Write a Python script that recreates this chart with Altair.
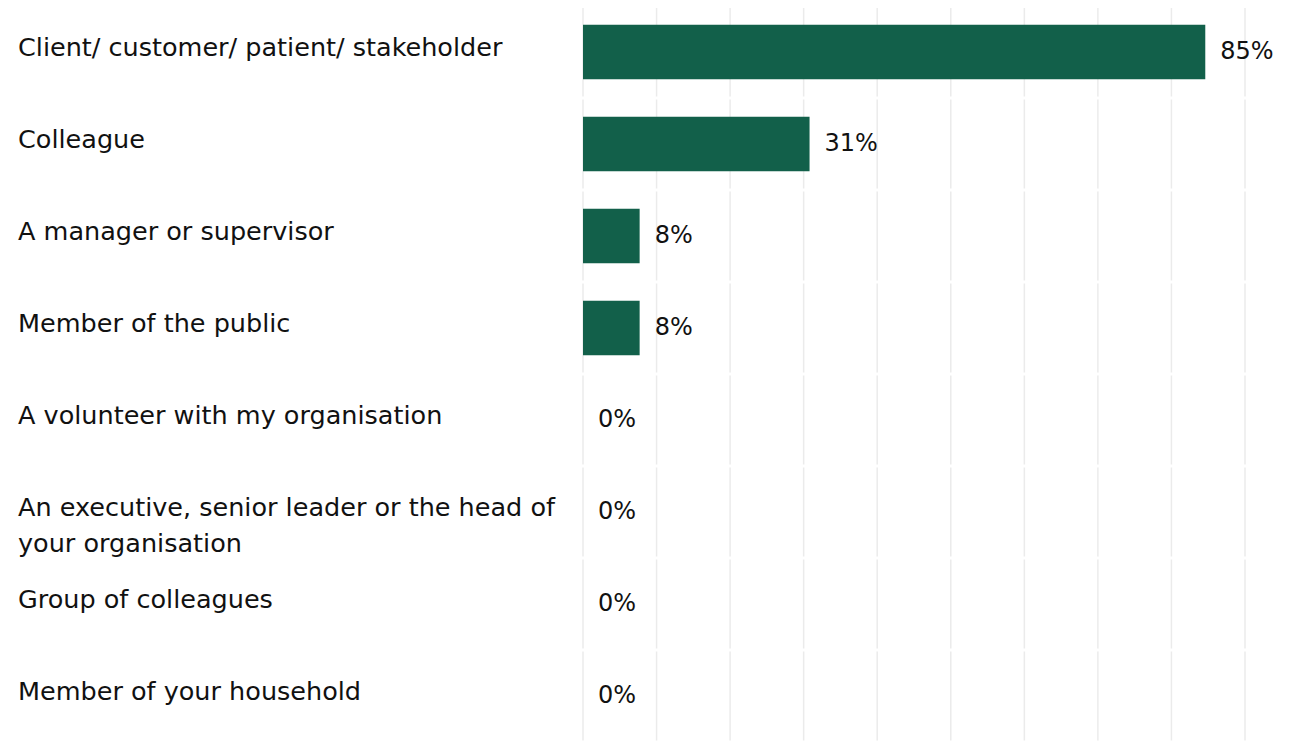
import altair as alt
import pandas as pd

categories = [
    "Client/ customer/ patient/ stakeholder",
    "Colleague",
    "A manager or supervisor",
    "Member of the public",
    "A volunteer with my organisation",
    "An executive, senior leader or the head of\nyour organisation",
    "Group of colleagues",
    "Member of your household",
]
values = [84.6, 30.8, 7.7, 7.7, 0, 0, 0, 0]
labels = ["85%", "31%", "8%", "8%", "0%", "0%", "0%", "0%"]
grid_ticks = [0, 10, 20, 30, 40, 50, 60, 70, 80, 90]

df = pd.DataFrame({"cat": categories, "val": values, "lbl": labels})
grid = pd.DataFrame([{"cat": c, "g": g} for c in categories for g in grid_ticks])

FONT = "DejaVu Sans"
STEP = 92
x_scale = alt.Scale(domain=[0, 90], nice=False, zero=True)
y_scale = alt.Scale(domain=categories, paddingInner=0.41, paddingOuter=0.205)
y_enc = alt.Y("cat:N", scale=y_scale, axis=None, sort=categories)

gridlines = alt.Chart(grid).mark_tick(
    orient="vertical", color="#e3e3e3", thickness=1.5, size=STEP - 3
).encode(
    x=alt.X("g:Q", scale=x_scale, axis=None),
    y=alt.Y("cat:N", scale=alt.Scale(domain=categories), axis=None, sort=categories),
)

bars = alt.Chart(df).mark_bar(color="#12604a").encode(
    x=alt.X("val:Q", scale=x_scale, axis=None),
    y=y_enc,
)

vals = alt.Chart(df).mark_text(
    align="left", baseline="middle", dx=15, fontSize=24, font=FONT, color="#111111"
).encode(
    x=alt.X("val:Q", scale=x_scale),
    y=y_enc,
    text="lbl:N",
)

cats = alt.Chart(df).mark_text(
    align="left", baseline="middle", dy=-4, fontSize=25.5, font=FONT,
    color="#111111", lineBreak="\n", lineHeight=36
).encode(
    x=alt.value(-565),
    y=y_enc,
    text="cat:N",
)

chart = alt.layer(gridlines, bars, vals, cats).properties(
    width=662, height=STEP * 8, padding={"left": 10, "top": -2, "right": 0, "bottom": 0}
).configure(background="white").configure_view(stroke=None)

chart.save("out.html", embed_options={"renderer": "svg", "actions": False})
